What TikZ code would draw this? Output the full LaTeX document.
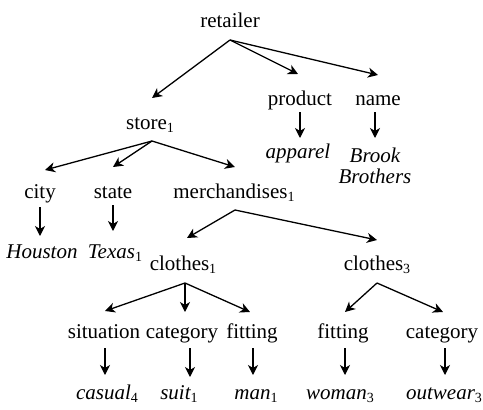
\documentclass[tikz,border=0pt]{standalone}
\usepackage{fontspec}
\setmainfont{Liberation Serif}
\usetikzlibrary{arrows.meta}
\newcommand\ssub[1]{\raisebox{-0.35ex}{\upshape\fontsize{14}{14}\selectfont #1}}
\tikzset{
  lbl/.style={anchor=base, inner sep=0pt, font=\fontsize{21}{21}\selectfont},
  val/.style={lbl, font=\fontsize{21}{21}\selectfont\itshape},
  arr/.style={line width=1.3pt, -{Stealth[length=10pt, width=10pt, inset=3pt]}}
}
\begin{document}
\begin{tikzpicture}[x=1pt, y=-1pt]
\useasboundingbox (0,0) rectangle (483,410);
% nodes
\node[lbl] (retailer) at (230,27) {retailer};
\node[lbl] (store) at (150,129) {store\ssub{1}};
\node[lbl] (product) at (300,105) {product};
\node[lbl] (name) at (378,105) {name};
\node[val] (apparel) at (298,158) {apparel};
\node[val] (brook) at (375,162) {Brook};
\node[val] (brothers) at (375,183) {Brothers};
\node[lbl] (city) at (40,198) {city};
\node[lbl] (state) at (113,198) {state};
\node[lbl] (merch) at (234,198) {merchandises\ssub{1}};
\node[val] (houston) at (42,258) {Houston};
\node[val] (texas) at (115,258) {Texas\ssub{1}};
\node[lbl] (clothesA) at (183,270) {clothes\ssub{1}};
\node[lbl] (clothesB) at (377,270) {clothes\ssub{3}};
\node[lbl] (situation) at (104,338) {situation};
\node[lbl] (categoryA) at (182,338) {category};
\node[lbl] (fittingA) at (252,338) {fitting};
\node[lbl] (fittingB) at (343,338) {fitting};
\node[lbl] (categoryB) at (442,338) {category};
\node[val] (casual) at (107,399) {casual\ssub{4}};
\node[val] (suit) at (179,399) {suit\ssub{1}};
\node[val] (man) at (256,399) {man\ssub{1}};
\node[val] (woman) at (340,399) {woman\ssub{3}};
\node[val] (outwear) at (444,399) {outwear\ssub{3}};
% connectors
\draw[arr] ([shift={(0,13)}]retailer.base) -- ([shift={(2,-31)}]store.base);
\draw[arr] ([shift={(0,13)}]retailer.base) -- ([shift={(-2,-31)}]product.base);
\draw[arr] ([shift={(0,13)}]retailer.base) -- ([shift={(0,-30)}]name.base);
\draw[arr] ([shift={(0,7)}]product.base) -- ([shift={(2,-20)}]apparel.base);
\draw[arr] ([shift={(-3,7)}]name.base) -- ([shift={(0,-24)}]brook.base);
\draw[arr] ([shift={(2,12)}]store.base) -- ([shift={(5,-28)}]city.base);
\draw[arr] ([shift={(2,12)}]store.base) -- ([shift={(0,-31)}]state.base);
\draw[arr] ([shift={(2,12)}]store.base) -- ([shift={(1,-31)}]merch.base);
\draw[arr] ([shift={(0,9)}]city.base) -- ([shift={(-2,-22)}]houston.base);
\draw[arr] ([shift={(0,7)}]state.base) -- ([shift={(-2,-27)}]texas.base);
\draw[arr] ([shift={(1,12)}]merch.base) -- ([shift={(4,-32)}]clothesA.base);
\draw[arr] ([shift={(1,12)}]merch.base) -- ([shift={(0,-30)}]clothesB.base);
\draw[arr] ([shift={(2,13)}]clothesA.base) -- ([shift={(1,-27)}]situation.base);
\draw[arr] ([shift={(2,13)}]clothesA.base) -- ([shift={(3,-26)}]categoryA.base);
\draw[arr] ([shift={(2,13)}]clothesA.base) -- ([shift={(-2,-26)}]fittingA.base);
\draw[arr] ([shift={(0,13)}]clothesB.base) -- ([shift={(2,-26)}]fittingB.base);
\draw[arr] ([shift={(0,13)}]clothesB.base) -- ([shift={(1,-26)}]categoryB.base);
\draw[arr] ([shift={(1,10)}]situation.base) -- ([shift={(-2,-24)}]casual.base);
\draw[arr] ([shift={(8,10)}]categoryA.base) -- ([shift={(11,-22)}]suit.base);
\draw[arr] ([shift={(1,10)}]fittingA.base) -- ([shift={(-3,-24)}]man.base);
\draw[arr] ([shift={(2,10)}]fittingB.base) -- ([shift={(5,-24)}]woman.base);
\draw[arr] ([shift={(3,10)}]categoryB.base) -- ([shift={(1,-24)}]outwear.base);
\end{tikzpicture}
\end{document}
